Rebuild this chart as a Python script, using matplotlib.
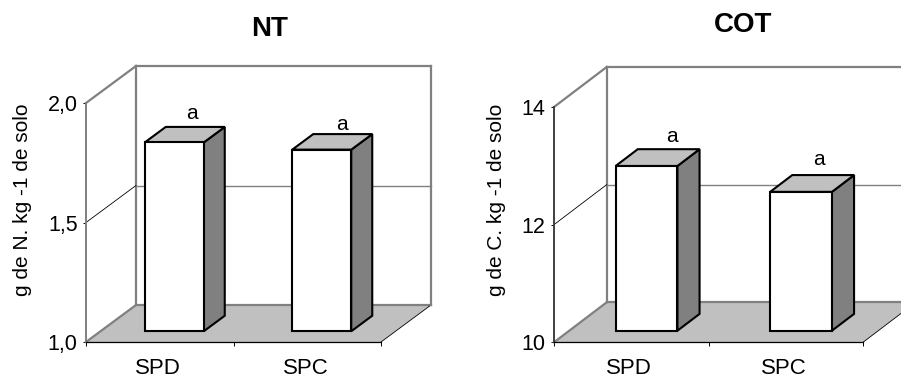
import matplotlib
matplotlib.use("Agg")
import matplotlib.pyplot as plt
import matplotlib.patches as patches

plt.rcParams['font.family'] = ['Liberation Sans', 'DejaVu Sans']

categories = ["SPD", "SPC"]
nt_values = [1.79, 1.76]
cot_values = [12.80, 12.36]
letters = ["a", "a"]

nt_ticks = [1.0, 1.5, 2.0]
nt_ticklabels = ["1,0", "1,5", "2,0"]
cot_ticks = [10, 12, 14]
cot_ticklabels = ["10", "12", "14"]

W, H = 901, 378
GREY = '#808080'
LIGHT = '#c0c0c0'


def axes_box(fig, left, right, top, bottom):
    return fig.add_axes([left / W, 1 - bottom / H, (right - left) / W, (bottom - top) / H])


def draw_panel(ax, values, ticks, ticklabels, ylabel, title, title_xy, label_x,
               depth_px, spine_color, letter_offsets):
    ymin, ymax = ticks[0], ticks[-1]
    n = len(categories)
    ax.set_xlim(0, n)
    ax.set_ylim(ymin, ymax)
    ax.patch.set_visible(False)

    # px -> data units for the fake 3d depth
    bbox = ax.get_position()
    sx = n / (bbox.width * W)
    sy = (ymax - ymin) / (bbox.height * H)
    dx = depth_px[0] * sx
    dy = depth_px[1] * sy

    def pr(x, y, d):
        return (x + d * dx, y + d * dy)

    def poly(pts, fc, ec, lw, z):
        ax.add_patch(patches.Polygon(pts, closed=True, facecolor=fc, edgecolor=ec,
                                     linewidth=lw, clip_on=False, zorder=z, joinstyle='miter'))

    def line(a, b, color, lw, z=2):
        ax.plot([a[0], b[0]], [a[1], b[1]], color=color, lw=lw, clip_on=False,
                zorder=z, solid_capstyle='projecting')

    # floor
    poly([pr(0, ymin, 0), pr(n, ymin, 0), pr(n, ymin, 1), pr(0, ymin, 1)], LIGHT, 'none', 0, 1)
    line(pr(0, ymin, 0), pr(0, ymin, 1), GREY, 1.6)
    line(pr(0, ymin, 1), pr(n, ymin, 1), GREY, 1.6)
    line(pr(n, ymin, 0), pr(n, ymin, 1), 'black', 0.6)

    # walls
    line(pr(0, ymin, 1), pr(0, ymax, 1), GREY, 1.6)
    line(pr(0, ymax, 1), pr(n, ymax, 1), GREY, 1.6)
    line(pr(n, ymin, 1), pr(n, ymax, 1), GREY, 1.6)
    line(pr(0, ymax, 0), pr(0, ymax, 1), GREY, 1.6)

    # gridlines
    for t in ticks[1:-1]:
        line(pr(0, t, 0), pr(0, t, 1), 'black', 0.6)
        line(pr(0, t, 1), pr(n, t, 1), GREY, 1.0)

    # bars
    width = 0.4
    for i, v in enumerate(values):
        x0 = i + 0.5 - width / 2
        x1 = i + 0.5 + width / 2
        d0, d1 = 0.29, 0.71
        poly([pr(x1, ymin, d0), pr(x1, ymin, d1), pr(x1, v, d1), pr(x1, v, d0)], GREY, 'black', 1.5, 3)
        poly([pr(x0, v, d0), pr(x1, v, d0), pr(x1, v, d1), pr(x0, v, d1)], LIGHT, 'black', 1.5, 3)
        poly([pr(x0, ymin, d0), pr(x1, ymin, d0), pr(x1, v, d0), pr(x0, v, d0)], 'white', 'black', 1.5, 4)
        ax.annotate(letters[i], pr(i + 0.5, v, 0.5), xytext=letter_offsets[i], textcoords='offset pixels',
                    ha='center', va='center', fontsize=15, zorder=5, annotation_clip=False)

    # axes
    for s in ['top', 'right']:
        ax.spines[s].set_visible(False)
    ax.spines['left'].set_color(spine_color)
    ax.spines['left'].set_linewidth(1.4)
    ax.spines['bottom'].set_color('black')
    ax.spines['bottom'].set_linewidth(0.9)
    ax.spines['left'].set_zorder(2)
    ax.spines['bottom'].set_zorder(2)

    ax.set_yticks(ticks)
    ax.set_yticklabels(ticklabels, fontsize=15.5)
    ax.tick_params(axis='y', length=2.5, width=0.7, pad=3.5, color='black')
    ax.set_xticks(range(n + 1))
    ax.set_xticklabels([])
    ax.tick_params(axis='x', which='major', length=3, width=0.7, color='black')
    ax.set_xticks([i + 0.5 - 0.012 for i in range(n)], minor=True)
    ax.set_xticklabels(categories, minor=True, fontsize=16)
    ax.tick_params(axis='x', which='minor', length=0, pad=11.5)

    ax.figure.text(label_x / W, 1 - 200 / H, ylabel, rotation=90, ha='center', va='center', fontsize=15)
    ax.figure.text(title_xy[0] / W, 1 - title_xy[1] / H, title, ha='center', va='center',
                   fontsize=20, fontweight='bold')


fig = plt.figure(figsize=(W / 100, H / 100), dpi=100)
fig.patch.set_facecolor('white')

ax1 = axes_box(fig, 86, 381, 103, 342)
draw_panel(ax1, nt_values, nt_ticks, nt_ticklabels, "g de N. kg -1 de solo", "NT",
           (270, 28.5), 23, (50, 37), GREY, [(7, 21), (10, 17)])

ax2 = axes_box(fig, 554, 863, 107, 342.3)
draw_panel(ax2, cot_values, cot_ticks, cot_ticklabels, "g de C. kg -1 de solo", "COT",
           (743, 25.5), 496, (52.7, 40), '#404040', [(14, 21), (7, 24)])

fig.savefig("out.png", dpi=100)
